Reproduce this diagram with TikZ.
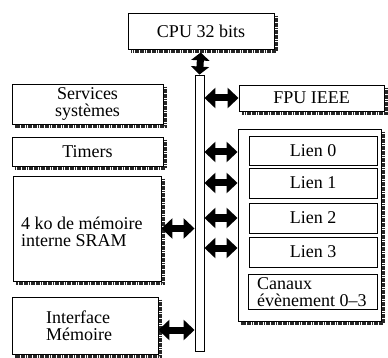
\documentclass[tikz,border=0pt]{standalone}
\usepackage{fontspec}
\setmainfont{Liberation Serif}
\usetikzlibrary{arrows.meta}
\tikzset{
  box/.style={draw, line width=0.9pt, inner sep=0pt, fill=white, align=center,
    font=\fontsize{18}{17}\selectfont},
  txt/.style={inner sep=0pt, align=left, font=\fontsize{18}{17}\selectfont},
  shadowline/.style={draw=black!85, line width=2.8pt, dash pattern=on 1.8pt off 0.6pt},
  dbl/.style={line width=7pt, {Triangle[length=11pt,width=20pt]}-{Triangle[length=11pt,width=20pt]}},
  dblshort/.style={line width=7pt, {Triangle[length=8pt,width=18pt]}-{Triangle[length=8pt,width=18pt]}},
}
\newcommand\myshadow[1]{%
  \draw[shadowline] ([xshift=1.8pt,yshift=-3pt]#1.north east) -- ([xshift=1.8pt,yshift=-1.8pt]#1.south east) -- ([xshift=3pt,yshift=-1.8pt]#1.south west);}
\begin{document}
\begin{tikzpicture}[x=1pt,y=-1pt]
\useasboundingbox (0,0) rectangle (388,358);
% bus bar
\node[box, minimum width=9pt, minimum height=276pt] (bar) at (199.5,213) {};
% CPU
\node[box, minimum width=146pt, minimum height=36pt] (cpu) at (201,31) {CPU 32 bits};
\myshadow{cpu}
% left column
\node[box, minimum width=151pt, minimum height=40pt] (svc) at (87.5,104) {Services\\systèmes};
\myshadow{svc}
\node[box, minimum width=151pt, minimum height=29pt] (tim) at (87.5,151.5) {Timers};
\myshadow{tim}
\node[box, minimum width=148pt, minimum height=105pt] (sram) at (87,228.5) {};
\myshadow{sram}
\node[txt, anchor=west] (sramtxt) at (21,232) {4 ko de mémoire\\interne SRAM};
\node[box, minimum width=146pt, minimum height=57pt] (intf) at (85,325.5) {};
\myshadow{intf}
\node[txt, anchor=west] (intftxt) at (46,326) {Interface\\Mémoire};
% right column
\node[box, minimum width=145pt, minimum height=26pt] (fpu) at (311.5,98) {FPU IEEE};
\myshadow{fpu}
\node[box, minimum width=143pt, minimum height=192pt] (grp) at (309.5,225) {};
\myshadow{grp}
\node[box, minimum width=128pt, minimum height=29pt] (l0) at (313,150.5) {Lien 0};
\node[box, minimum width=128pt, minimum height=30pt] (l1) at (313,183) {Lien 1};
\node[box, minimum width=128pt, minimum height=30pt] (l2) at (313,218) {Lien 2};
\node[box, minimum width=128pt, minimum height=30pt] (l3) at (313,252) {Lien 3};
\node[box, minimum width=129pt, minimum height=35pt] (can) at (312.5,291.5) {};
\node[txt, anchor=west] (cantxt) at (257,292) {Canaux\\évènement 0--3};
% connectors
\draw[dblshort, shorten <=3pt] (cpu.south) -- (bar.north);
\draw[dbl] (bar.east |- fpu.west) -- (fpu.west);
\coordinate (y0) at (0,152);
\coordinate (y1) at (0,183);
\coordinate (y2) at (0,218);
\coordinate (y3) at (0,248);
\foreach \c in {y0,y1,y2,y3}{
  \draw[dbl] (bar.east |- \c) -- (grp.west |- \c);
}
\draw[dbl] (sram.east) -- (bar.west |- sram.east);
\coordinate (yi) at (0,330);
\draw[dbl] (intf.east |- yi) -- (bar.west |- yi);
\end{tikzpicture}
\end{document}
